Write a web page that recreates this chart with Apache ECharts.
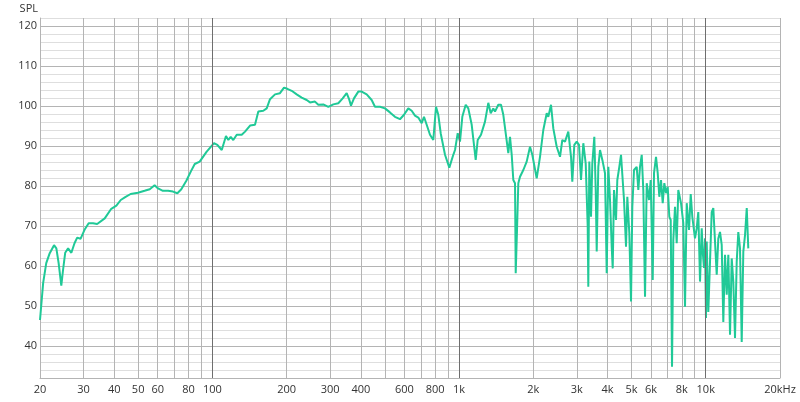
<!DOCTYPE html>
<html>
<head>
<meta charset="utf-8">
<script src="https://cdn.jsdelivr.net/npm/echarts@6/dist/echarts.min.js"></script>
<style>
html,body{margin:0;padding:0;background:#fff;}
#chart{width:800px;height:402px;}
</style>
</head>
<body>
<div id="chart"></div>
<script>
// Frequency (Hz)
var freqs = [
  20, 20.6, 21.2, 21.9, 22.8, 23.3, 23.8, 24.4, 24.8, 25.3, 26.0, 26.8, 27.6, 28.3, 29.2,
  30.4, 31.5, 32.8, 34.1, 36.6, 38.9, 40.8, 42.5, 44.3, 46.6, 49.9, 53.1, 55.7, 58.3, 60.2,
  63.0, 66.1, 69.2, 72.1, 74.8, 78.4, 81.7, 84.8, 88.8, 94.8, 101.5, 104.7, 109.1, 113.5,
  116.0, 118.6, 121.5, 125.5, 131.5, 135.6, 142.1, 148.8, 153.5, 160.8, 166.0, 171.2, 179.4,
  187.9, 195.1, 201.2, 209.6, 219.6, 230.1, 241.1, 248.7, 260.5, 268.7, 281.5, 295.0, 309.1,
  323.8, 337.4, 350.2, 357.8, 364.6, 374.9, 390.3, 402.9, 422.1, 442.2, 456.1, 477.9, 500.7,
  524.6, 549.6, 575.9, 598.0, 622.4, 642.5, 662.6, 683.4, 705.4, 720.7, 739.1, 762.3, 786.1,
  806.2, 823.7, 842.3, 876.9, 912.8, 947.5, 962.7, 987.3, 1008.7, 1030.6, 1063.8, 1089.9,
  1125.1, 1167.8, 1189.8, 1227.1, 1273.8, 1313.7, 1343.4, 1376.4, 1398.4, 1442.2, 1479.1,
  1511.2, 1535.3, 1583.4, 1608.7, 1634.5, 1659.1, 1685.7, 1696.7, 1717.4, 1738.4, 1766.2,
  1821.5, 1879.8, 1938.8, 1980.8, 2063.8, 2128.5, 2195.2, 2266.0, 2300, 2358.8, 2410, 2487.8,
  2565.6, 2621.4, 2688.2, 2772.4, 2843.2, 2877.8, 2932, 2998.4, 3063.4, 3121.2, 3189, 3261.2,
  3322.6, 3341.2, 3372.6, 3426.6, 3468.4, 3533.8, 3580.2, 3613.8, 3668.2, 3727, 3822, 3905,
  3967, 4027, 4092, 4157, 4196, 4247, 4327, 4380, 4463, 4534, 4607, 4663, 4751, 4809, 4900,
  4978, 5039, 5119, 5250, 5329, 5414, 5501, 5583, 5673, 5764, 5889, 5983, 6096, 6170, 6286,
  6387, 6483, 6587, 6692, 6793, 6902, 7012, 7118, 7211, 7299, 7388, 7506, 7626, 7740, 7938,
  8110, 8240, 8372, 8554,
  8691, 8822, 8903, 9045, 9190, 9328, 9479, 9631, 9721, 9839, 9932, 10023, 10091, 10242,
  10406, 10572, 10732, 10904, 11078, 11244, 11424, 11607, 11782, 11970, 12162, 12346, 12544,
  12743, 12934, 13141, 13352, 13552, 13769, 13990, 14201, 14432, 14663, 14875
];
// SPL (dB)
var spl = [
  46.5, 55.8, 60.7, 63.2, 65.2, 64.4, 60.7, 55.1, 59.0, 63.3, 64.4, 63.3, 65.7, 67.1, 66.8,
  69.2, 70.7, 70.7, 70.5, 71.9, 74.3, 75.1, 76.5, 77.2, 78.0, 78.3, 78.8, 79.2, 80.2, 79.4,
  78.8, 78.8, 78.6, 78.2, 79.2, 81.3, 83.6, 85.5, 86.1, 88.6, 90.7, 90.3, 89.0, 92.5,
  91.5, 92.3, 91.5, 92.8, 92.8, 93.6, 95.1, 95.3, 98.6, 98.8, 99.4, 101.7, 102.9,
  103.2, 104.6, 104.3, 103.8, 102.9, 102.1, 101.5, 100.9, 101.1, 100.3, 100.4, 99.8, 100.4,
  100.7, 101.9, 103.2, 101.8, 100.1, 101.9, 103.6, 103.6, 102.9, 101.5, 99.8, 99.8, 99.4,
  98.4, 97.3, 96.7, 97.8, 99.4, 98.8, 97.6, 97.1, 95.7, 97.3, 95.3, 92.8, 91.5,
  99.8, 97.8, 93.2, 87.8, 84.6, 87.8, 89.0, 93.2, 91.1, 97.3, 100.3, 99.4,
  95.3, 86.5, 91.5, 92.8, 96.1, 100.8, 98.2, 99.4, 98.6, 100.3, 100.3,
  97.8, 98.2, 88.2, 92.3, 87.8, 81.5, 80.7, 58.2, 69.0, 80.7, 82.3,
  84.0, 86.1, 89.8, 87.8, 81.9, 87.3, 94.0, 98.2, 97.3, 100.3, 94.4, 89.8,
  87.3, 91.5, 91.1, 93.6, 87.3, 81.1, 90.3, 91.1, 90.3, 81.5, 90.7, 85.6,
  69.8, 54.8, 86.1, 72.3, 85.6, 92.3, 79.0, 63.6, 84.8, 89.0, 86.1, 83.2,
  58.2, 84.8, 76.5, 64.8, 59.4, 79.0, 71.5, 81.5, 84.8, 87.8, 88.3, 76.5, 64.8, 77.3, 68.2,
  51.1, 74.8, 84.0, 84.8, 79.0, 84.8, 87.8, 79.0, 52.3, 80.7, 76.5, 81.5, 56.5, 83.2, 87.3,
  83.2, 77.3, 81.5, 75.7, 80.7, 78.2, 79.8, 72.3, 71.5, 34.8, 66.5, 74.8, 65.7, 79.0, 75.7,
  70.7, 49.8, 75.7, 69.0,
  78.0, 72.3, 72.8, 66.9, 69.4, 73.5, 56.1, 69.4, 63.6, 59.5, 66.9, 47.0, 66.1, 48.5,
  61.1, 73.5, 74.5, 66.1, 57.8, 66.9, 68.5, 65.3, 46.0, 62.8, 52.8, 62.8, 42.8,
  61.9, 56.1, 42.0, 61.1, 68.5, 64.4, 41.0, 63.6, 67.8, 74.5, 64.4
];
// Axis ticks / labels
var xGridValues = [20,30,40,50,60,70,80,90,100,200,300,400,500,600,700,800,900,
  1000,2000,3000,4000,5000,6000,7000,8000,9000,10000,20000];
var xLabelValues = [20,30,40,50,60,80,100,200,300,400,600,800,1000,2000,3000,4000,5000,6000,8000,10000,20000];
var xDecadeLines = [100, 1000, 10000];
var yMin = 32, yMax = 122, yStep = 2;

var n = Math.min(freqs.length, spl.length);
var data = [];
for (var i = 0; i < n; i++) data.push([freqs[i], spl[i]]);

var chart = echarts.init(document.getElementById('chart'), null, {renderer: 'canvas'});
var font = 'Open Sans';
chart.setOption({
  animation: false,
  backgroundColor: '#ffffff',
  grid: {left: 40, right: 20, top: 18, bottom: 24, containLabel: false},
  xAxis: {
    type: 'log',
    logBase: 10,
    min: 20,
    max: 20000,
    axisLine: {show: true, lineStyle: {color: '#b4b4b4', width: 1}},
    axisTick: {show: false, customValues: xGridValues},
    axisLabel: {
      customValues: xLabelValues,
      color: '#333',
      fontFamily: font,
      fontSize: 11,
      margin: 6,
      formatter: function (v) {
        v = Math.round(v);
        if (v === 20000) return '20kHz';
        if (v >= 1000) return (v / 1000) + 'k';
        return String(v);
      }
    },
    splitLine: {show: true, lineStyle: {color: '#b4b4b4', width: 1}}
  },
  yAxis: {
    type: 'value',
    min: yMin,
    max: yMax,
    interval: yStep,
    name: 'SPL',
    nameLocation: 'end',
    nameGap: 4,
    nameTextStyle: {color: '#333', fontFamily: font, fontSize: 11, align: 'right', verticalAlign: 'bottom', padding: [0, 2, 0, 0]},
    axisLine: {show: true, lineStyle: {color: '#b4b4b4', width: 1}},
    axisTick: {show: false},
    axisLabel: {
      color: '#333',
      fontFamily: font,
      fontSize: 11,
      margin: 3,
      formatter: function (v) {
        return (v % 10 === 0 && v >= 40) ? String(v) : '';
      }
    },
    splitLine: {show: true, lineStyle: {color: ['#dedede', '#dedede', '#dedede', '#dedede', '#b4b4b4'], width: 1}}
  },
  series: [
    {
      type: 'line',
      data: [],
      silent: true,
      z: 1,
      markLine: {
        silent: true,
        symbol: ['none', 'none'],
        label: {show: false},
        lineStyle: {color: '#6e6e6e', width: 1, type: 'solid'},
        data: xDecadeLines.map(function (v) { return {xAxis: v}; })
      }
    },
    {
      type: 'line',
      data: data,
      z: 3,
      showSymbol: false,
      symbol: 'none',
      lineStyle: {color: '#20c997', width: 2},
      itemStyle: {color: '#20c997'}
    }
  ]
});
</script>
</body>
</html>
